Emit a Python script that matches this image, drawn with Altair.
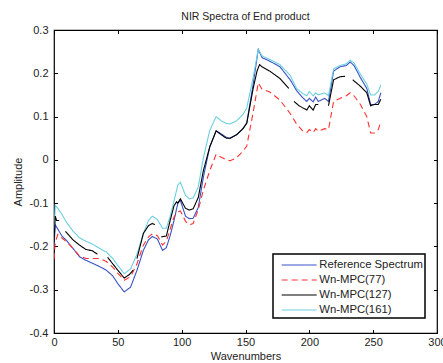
import altair as alt
import pandas as pd

# ---- data ----
SERIES = ["Reference Spectrum", "Wn-MPC(77)", "Wn-MPC(127)", "Wn-MPC(161)"]
COLORS = ["#3a52c4", "#ff3030", "#000000", "#6ccfe0"]

X = [0, 1, 3, 6, 10, 15, 20, 25, 31, 36, 41, 46, 50, 55, 60, 65, 70, 74, 77, 81,
     85, 88, 91, 94, 97, 99, 103, 106, 109, 113, 117, 122, 127, 131, 135, 138,
     143, 148, 151, 156, 160, 163, 169, 177, 185, 190, 195, 198, 200, 203, 205,
     207, 212, 215, 219, 224, 229, 232, 235, 240, 245, 248, 251, 254, 256]

ref = [-0.20, -0.15, -0.16, -0.175, -0.187, -0.205, -0.224, -0.232, -0.24, -0.247,
       -0.255, -0.268, -0.286, -0.305, -0.294, -0.255, -0.209, -0.185, -0.177, -0.183,
       -0.209, -0.203, -0.175, -0.14, -0.10, -0.094, -0.13, -0.136, -0.135, -0.11,
       -0.04, 0.03, 0.067, 0.06, 0.052, 0.05, 0.058, 0.072, 0.085, 0.175, 0.255,
       0.236, 0.228, 0.215, 0.185, 0.16, 0.143, 0.135, 0.142, 0.134, 0.145, 0.135,
       0.142, 0.135, 0.205, 0.215, 0.218, 0.226, 0.218, 0.19, 0.165, 0.128, 0.128,
       0.135, 0.155]

mpc77 = [-0.23, -0.19, -0.172, -0.18, -0.19, -0.205, -0.222, -0.228, -0.228, -0.228,
         -0.235, -0.248, -0.262, -0.278, -0.27, -0.24, -0.197, -0.178, -0.171, -0.175,
         -0.197, -0.188, -0.16, -0.132, -0.12, -0.118, -0.142, -0.15, -0.147, -0.115,
         -0.07, -0.025, 0.013, 0.006, 0.0, -0.002, 0.005, 0.02, 0.032, 0.11, 0.178,
         0.163, 0.157, 0.138, 0.107, 0.083, 0.066, 0.063, 0.07, 0.063, 0.072, 0.066,
         0.072, 0.07, 0.135, 0.142, 0.148, 0.155, 0.148, 0.128, 0.10, 0.062, 0.062,
         0.07, 0.088]

mpc161 = [-0.175, -0.105, -0.112, -0.125, -0.145, -0.165, -0.18, -0.188, -0.196, -0.205,
          -0.213, -0.228, -0.244, -0.263, -0.252, -0.218, -0.17, -0.14, -0.13, -0.138,
          -0.158, -0.158, -0.13, -0.095, -0.058, -0.052, -0.082, -0.09, -0.088, -0.063,
          0.005, 0.068, 0.10, 0.09, 0.084, 0.083, 0.09, 0.105, 0.12, 0.19, 0.255,
          0.24, 0.232, 0.22, 0.195, 0.165, 0.153, 0.148, 0.158, 0.148, 0.155, 0.15,
          0.155, 0.148, 0.21, 0.218, 0.222, 0.23, 0.224, 0.198, 0.175, 0.15, 0.15,
          0.158, 0.173]

# Wn-MPC(127) is drawn in broken pieces in the reference
bx = [0, 1, 2, 4,
      9, 15, 20, 25, 30, 34,
      42, 46, 50, 55, 59, 62,
      65, 70, 74, 77, 79,
      84, 88, 91, 94, 96, 97, 99, 103, 106, 109, 113, 117, 122, 127, 131, 135, 138,
      143, 148, 151, 156, 159, 161, 163, 169, 177, 184,
      188, 192, 195, 198, 200, 203, 205, 207,
      215, 219, 224, 228,
      234, 240, 245, 248, 251, 254, 256]
by = [-0.19, -0.13, -0.14, -0.14,
      -0.165, -0.185, -0.197, -0.207, -0.21, -0.218,
      -0.225, -0.24, -0.255, -0.273, -0.265, -0.255,
      -0.228, -0.17, -0.152, -0.147, -0.15,
      -0.178, -0.176, -0.14, -0.106, -0.097, -0.10, -0.09, -0.112, -0.116, -0.113,
      -0.087, -0.025, 0.03, 0.067, 0.058, 0.05, 0.05, 0.058, 0.072, 0.085, 0.165,
      0.205, 0.22, 0.215, 0.205, 0.188, 0.165,
      0.135, 0.125, 0.12, 0.115, 0.125, 0.115, 0.128, 0.128,
      0.125, 0.185, 0.192, 0.193,
      0.185, 0.17, 0.155, 0.125, 0.128, 0.128, 0.14]
bseg = [0] * 4 + [1] * 6 + [2] * 6 + [3] * 5 + [4] * 27 + [5] * 8 + [6] * 4 + [7] * 7

X_TICKS = [0, 50, 100, 150, 200, 250, 300]
Y_TICKS = [-0.4, -0.3, -0.2, -0.1, 0.0, 0.1, 0.2, 0.3]

rows = []
for name, ys in [(SERIES[0], ref), (SERIES[1], mpc77), (SERIES[3], mpc161)]:
    for xv, yv in zip(X, ys):
        rows.append({"x": xv, "y": yv, "series": name, "seg": 0})
for xv, yv, sg in zip(bx, by, bseg):
    rows.append({"x": xv, "y": yv, "series": SERIES[2], "seg": sg})
df = pd.DataFrame(rows)

FONT = "Liberation Sans"
TS = 3.5

xscale = alt.Scale(domain=[0, 300], nice=False, zero=False)
yscale = alt.Scale(domain=[-0.4, 0.3], nice=False, zero=False)

ylabel = "datum.value == 0 ? '0' : replace(format(datum.value, '.1f'), '\u2212', '-')"

lines = alt.Chart(df).mark_line(strokeWidth=1.1, clip=True).encode(
    x=alt.X("x:Q", scale=xscale,
            axis=alt.Axis(orient="bottom", values=X_TICKS, title="Wavenumbers",
                          offset=-TS, tickSize=TS, domain=False, grid=False,
                          labelPadding=3, titlePadding=3, labelFlush=False)),
    y=alt.Y("y:Q", scale=yscale,
            axis=alt.Axis(orient="left", values=Y_TICKS, title="Amplitude",
                          offset=-TS, tickSize=TS, domain=False, grid=False,
                          labelPadding=6, titlePadding=6, labelExpr=ylabel)),
    color=alt.Color("series:N", sort=SERIES,
                    scale=alt.Scale(domain=SERIES, range=COLORS), title=None,
                    legend=alt.Legend(labelExpr="datum.label + '\u00a0\u00a0'")),
    strokeDash=alt.StrokeDash("series:N", sort=SERIES,
                              scale=alt.Scale(domain=SERIES,
                                              range=[[1, 0], [6, 4], [1, 0], [1, 0]]),
                              title=None,
                              legend=alt.Legend(labelExpr="datum.label + '\u00a0\u00a0'")),
    detail="seg:N",
    order="x:Q",
)

mirror = alt.Chart(df).mark_point(opacity=0).encode(
    x=alt.X("x:Q", scale=xscale,
            axis=alt.Axis(orient="top", values=X_TICKS, title=None, labels=False,
                          offset=-TS, tickSize=TS, domain=False, grid=False)),
    y=alt.Y("y:Q", scale=yscale,
            axis=alt.Axis(orient="right", values=Y_TICKS, title=None, labels=False,
                          offset=-TS, tickSize=TS, domain=False, grid=False)),
)

chart = alt.layer(lines, mirror).resolve_axis(x="independent", y="independent").properties(
    width=383,
    height=303,
    title=alt.TitleParams("NIR Spectra of End product", fontSize=10.5, font=FONT,
                          fontWeight="normal", color="#222222", offset=2),
    autosize=alt.AutoSizeParams(type="none"),
    padding={"left": 54, "top": 30, "right": 6, "bottom": 30},
).configure_view(
    stroke="#000000", strokeWidth=1.2
).configure_axis(
    labelFont=FONT, labelFontSize=11, labelColor="#222222",
    titleFont=FONT, titleFontSize=11, titleFontWeight="normal", titleColor="#222222",
    tickColor="#000000", tickWidth=1,
).configure_legend(
    orient="none", legendX=219, legendY=224,
    strokeColor="#000000", strokeWidth=1.5, fillColor="#ffffff",
    padding=2, rowPadding=0, symbolType="M-0.28,0L3.91,0", symbolSize=279,
    symbolStrokeWidth=1.2, labelFont=FONT, labelFontSize=11.3, labelColor="#222222",
    labelOffset=26.3, labelLimit=200,
)

chart.save("out.html", embed_options={"renderer": "svg", "actions": False})
